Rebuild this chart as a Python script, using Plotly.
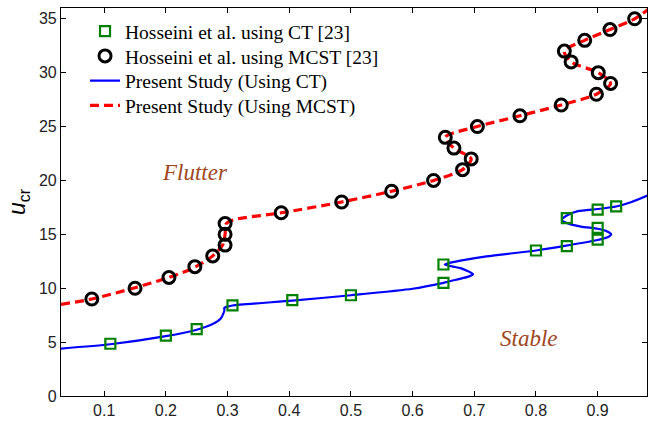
import plotly.graph_objects as go

# Hosseini et al. using CT [23] (squares)
ct_ref_x = [0.11, 0.20, 0.25, 0.308, 0.405, 0.50, 0.65, 0.65, 0.80, 0.85, 0.85, 0.90, 0.90, 0.90, 0.93]
ct_ref_y = [4.85, 5.6, 6.2, 8.4, 8.9, 9.35, 10.5, 12.2, 13.5, 13.9, 16.5, 14.5, 15.6, 17.3, 17.6]

# Hosseini et al. using MCST [23] (circles)
mcst_ref_x = [0.08, 0.15, 0.205, 0.247, 0.276, 0.296, 0.296, 0.296, 0.387, 0.485, 0.566, 0.634,
              0.681, 0.695, 0.667, 0.653, 0.705, 0.774, 0.841, 0.898, 0.921, 0.901, 0.857, 0.846,
              0.879, 0.92, 0.96]
mcst_ref_y = [9, 10, 11, 12, 13, 14, 15, 16, 17, 18, 19, 20,
              21, 22, 23, 24, 25, 26, 27, 28, 29, 30, 31, 32,
              33, 34, 35]

# Present Study (Using CT)
ct_x = [0.03, 0.11, 0.20, 0.25, 0.275, 0.289, 0.2935, 0.295, 0.2945, 0.298, 0.308, 0.405, 0.50, 0.60,
        0.65, 0.673, 0.692, 0.698, 0.679, 0.652, 0.668, 0.72, 0.80, 0.849, 0.90, 0.917, 0.922, 0.912,
        0.90, 0.873, 0.852, 0.842, 0.85, 0.868, 0.90, 0.93, 0.955, 0.985]
ct_y = [4.4, 4.8, 5.55, 6.15, 6.65, 7.19, 7.69, 8.0, 8.15, 8.27, 8.4, 8.85, 9.35, 9.95,
        10.5, 10.82, 11.1, 11.3, 11.84, 12.2, 12.45, 12.95, 13.5, 13.95, 14.47, 14.75, 15.0, 15.35,
        15.52, 15.72, 16.0, 16.35, 16.75, 17.15, 17.35, 17.58, 18.0, 18.7]

# Present Study (Using MCST)
mcst_x = [0.03, 0.08, 0.15, 0.205, 0.247, 0.276, 0.292, 0.296, 0.298, 0.31, 0.387, 0.485, 0.566,
          0.634, 0.681, 0.695, 0.667, 0.653, 0.705, 0.774, 0.841, 0.898, 0.921, 0.901, 0.857, 0.846,
          0.879, 0.92, 0.96, 0.985]
mcst_y = [8.5, 9.0, 10.05, 11.0, 11.95, 13.0, 14.0, 15.0, 16.0, 16.35, 17.0, 18.0, 19.0,
          20.0, 21.0, 22.0, 23.0, 24.0, 25.0, 26.0, 27.0, 28.0, 29.0, 30.0, 31.0, 32.0,
          33.0, 34.0, 35.0, 36.0]

x_ticks = [0.1, 0.2, 0.3, 0.4, 0.5, 0.6, 0.7, 0.8, 0.9]
y_ticks = [0, 5, 10, 15, 20, 25, 30, 35]

fig = go.Figure()
fig.add_trace(go.Scatter(x=ct_x, y=ct_y, mode="lines", name="Present Study (Using CT)",
                         line=dict(color="#0000ff", width=2.2, shape="spline", smoothing=0.6),
                         legend="legend3", showlegend=True))
fig.add_trace(go.Scatter(x=mcst_x, y=mcst_y, mode="lines", name="Present Study (Using MCST)",
                         line=dict(color="#ff0000", width=3.2, dash="9px,5px", shape="spline", smoothing=0.8),
                         legend="legend4", showlegend=True))
fig.add_trace(go.Scatter(x=ct_ref_x, y=ct_ref_y, mode="markers", name="Hosseini et al. using CT [23]",
                         marker=dict(symbol="square-open", size=10, color="#008000", line=dict(width=2.2, color="#008000")),
                         legend="legend", showlegend=True))
fig.add_trace(go.Scatter(x=mcst_ref_x, y=mcst_ref_y, mode="markers", name="Hosseini et al. using MCST [23]",
                         marker=dict(symbol="circle-open", size=12, color="#000000", line=dict(width=3, color="#000000")),
                         legend="legend2", showlegend=True))

fig.add_annotation(x=0.247, y=20.7, text="<i>Flutter</i>", showarrow=False,
                   font=dict(family="Liberation Serif", size=23, color="#a0461e"))
fig.add_annotation(x=0.788, y=5.35, text="<i>Stable</i>", showarrow=False,
                   font=dict(family="Liberation Serif", size=23, color="#a0461e"))

axis_common = dict(showline=True, linecolor="black", linewidth=1.2, mirror="ticks",
                   ticks="inside", ticklen=5, tickcolor="black", showgrid=False, zeroline=False,
                   tickfont=dict(family="Liberation Sans", size=16, color="#222222"))
fig.update_xaxes(range=[0.03, 0.98], tickvals=x_ticks, ticktext=[str(v) for v in x_ticks], **axis_common)
fig.update_yaxes(range=[0, 36], tickvals=y_ticks, ticktext=[str(v) for v in y_ticks],
                 title=dict(text="<i>u</i><sub>cr</sub>", font=dict(family="Liberation Sans", size=23, color="black"),
                            standoff=6),
                 **axis_common)

legend_font = dict(family="Liberation Serif", size=19.5, color="black")
row_step = 24.7 / 388
top_y = 0.987 + 1 / 388
legend_base = dict(x=0.041, xanchor="left", yanchor="top", bgcolor="rgba(0,0,0,0)", font=legend_font)

fig.update_layout(
    width=649, height=427,
    margin=dict(l=61, r=2, t=8, b=31),
    plot_bgcolor="white", paper_bgcolor="white",
    showlegend=True,
    legend=dict(y=top_y, **legend_base),
    legend2=dict(y=top_y - row_step, **legend_base),
    legend3=dict(y=top_y - 2 * row_step, **legend_base),
    legend4=dict(y=top_y - 3 * row_step, **legend_base),
)

fig.write_html("out.html")
